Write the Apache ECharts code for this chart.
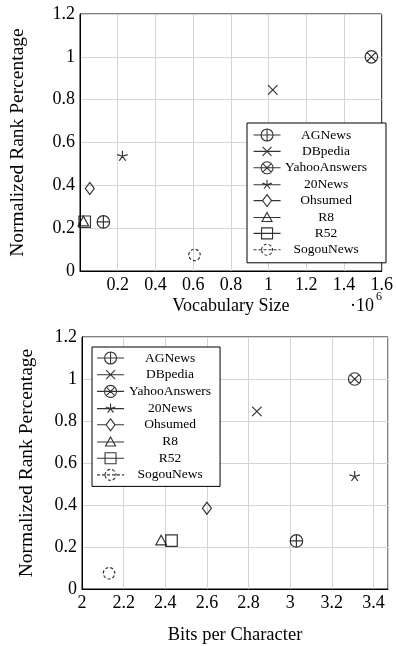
<!DOCTYPE html>
<html>
<head>
<meta charset="utf-8">
<script src="https://cdn.jsdelivr.net/npm/echarts@6/dist/echarts.min.js"></script>
<style>
html,body{margin:0;padding:0;background:#fff;}
#chart{width:396px;height:646px;}
</style>
</head>
<body>
<div id="chart"></div>
<script>
// ---- data ----
var datasetNames = ['AGNews', 'DBpedia', 'YahooAnswers', '20News', 'Ohsumed', 'R8', 'R52', 'SogouNews'];
var rankPercentage = [0.229, 0.846, 1.0, 0.538, 0.385, 0.233, 0.23, 0.075];
var vocabularySize = [124000, 1022000, 1545000, 225000, 52000, 18000, 25000, 607000];
var bitsPerCharacter = [3.03, 2.84, 3.31, 3.31, 2.60, 2.38, 2.43, 2.13];
var yTicks = [0, 0.2, 0.4, 0.6, 0.8, 1, 1.2];
var vocabTicks = [0.2, 0.4, 0.6, 0.8, 1, 1.2, 1.4, 1.6]; // x 10^6
var bpcTicks = [2, 2.2, 2.4, 2.6, 2.8, 3, 3.2, 3.4];

// ---- styling ----
var FONT = 'Liberation Serif';
var markers = [
  {sym: 'path://M0,10A10,10,0,1,1,20,10A10,10,0,1,1,0,10ZM0,10L20,10M10,0L10,20', size: 12.5},
  {sym: 'path://M0,0L20,20M0,20L20,0', size: 9.5},
  {sym: 'path://M0,10A10,10,0,1,1,20,10A10,10,0,1,1,0,10ZM2.93,2.93L17.07,17.07M2.93,17.07L17.07,2.93', size: 12.5},
  {sym: 'path://M10,10L10,0M10,10L19.51,6.91M10,10L15.88,18.09M10,10L4.12,18.09M10,10L0.49,6.91', size: [10.5, 10]},
  {sym: 'path://M5,0L10,7L5,14L0,7Z', size: [9, 12]},
  {sym: 'path://M5,0L10,9L0,9Z', size: [10.5, 9.5]},
  {sym: 'path://M0,0L10,0L10,10L0,10Z', size: 11.5},
  {sym: 'path://M0,10A10,10,0,1,1,20,10A10,10,0,1,1,0,10Z', size: 11.5}
];
var legendIcons = [
  'path://M0,6L27,6M7.5,6A6,6,0,1,1,19.5,6A6,6,0,1,1,7.5,6ZM13.5,0L13.5,12',
  'path://M0,6L27,6M9,1.5L18,10.5M9,10.5L18,1.5',
  'path://M0,6L27,6M7.5,6A6,6,0,1,1,19.5,6A6,6,0,1,1,7.5,6ZM9.26,1.76L17.74,10.24M9.26,10.24L17.74,1.76',
  'path://M0,6L27,6M13.5,6L13.5,1M13.5,6L18.26,4.45M13.5,6L16.44,10.05M13.5,6L10.56,10.05M13.5,6L8.74,4.45',
  'path://M0,6L9,6M18,6L27,6M13.5,0L18,6L13.5,12L9,6Z',
  'path://M0,6L27,6M13.5,1L18.5,10L8.5,10Z',
  'path://M0,6L27,6M8,0.5L19,0.5L19,11.5L8,11.5Z',
  'path://M0,6L27,6M8,6A5.5,5.5,0,1,1,19,6A5.5,5.5,0,1,1,8,6Z'
];

function fmtNum(v) { return String(+v.toFixed(2)); }

function buildSeries(xValues, axisIndex) {
  return datasetNames.map(function (name, i) {
    return {
      name: name,
      type: 'scatter',
      xAxisIndex: axisIndex,
      yAxisIndex: axisIndex,
      symbol: markers[i].sym,
      symbolSize: markers[i].size,
      itemStyle: {
        color: 'rgba(0,0,0,0)',
        borderColor: '#000',
        borderWidth: 1.2,
        borderType: i === 7 ? [3, 2] : 'solid'
      },
      emphasis: {disabled: true},
      silent: true,
      data: [[xValues[i], rankPercentage[i]]]
    };
  });
}

function buildLegend(opts) {
  return {
    orient: 'vertical',
    left: opts.left,
    top: opts.top,
    padding: opts.padding,
    itemWidth: 27,
    itemHeight: 12,
    itemGap: opts.gap,
    backgroundColor: '#fff',
    borderColor: '#000',
    borderWidth: 1,
    borderRadius: 0,
    selectedMode: false,
    itemStyle: {color: 'rgba(0,0,0,0)', borderColor: '#000', borderWidth: 1.1},
    formatter: '{t|{name}}',
    textStyle: {
      fontFamily: FONT, fontSize: 13.5, color: '#000',
      rich: {t: {width: opts.textWidth, align: 'center', lineHeight: 14, fontFamily: FONT, fontSize: 13.5, color: '#000'}}
    },
    data: datasetNames.map(function (n, i) {
      var d = {name: n, icon: legendIcons[i]};
      if (i === 7) d.itemStyle = {borderType: [3, 2]};
      return d;
    })
  };
}

var axisLabelStyle = {fontFamily: FONT, fontSize: 18, color: '#000'};
var splitLineStyle = {show: true, lineStyle: {color: '#d4d4d4', width: 1}};
var axisLineStyle = {show: true, lineStyle: {color: '#000', width: 1}};

var option = {
  animation: false,
  backgroundColor: '#fff',
  grid: [
    {left: 72, top: 14, width: 314, height: 257, show: true, borderColor: '#000', borderWidth: 1, backgroundColor: 'transparent'},
    {left: 82, top: 337, width: 306, height: 260, show: true, borderColor: '#000', borderWidth: 1, backgroundColor: 'transparent'}
  ],
  xAxis: [
    {
      type: 'value', gridIndex: 0, min: 0, max: 1.6e6, interval: 2e5,
      axisLine: axisLineStyle, axisTick: {show: false}, splitLine: splitLineStyle,
      axisLabel: Object.assign({margin: 5, formatter: function (v) {
        var t = +(v / 1e6).toFixed(1);
        return vocabTicks.indexOf(t) >= 0 ? String(t) : '';
      }}, axisLabelStyle),
      name: 'Vocabulary Size', nameLocation: 'middle', nameGap: 26,
      nameTextStyle: {fontFamily: FONT, fontSize: 18, color: '#000'}
    },
    {
      type: 'value', gridIndex: 1, min: 2, max: 3.47, interval: 0.2,
      axisLine: axisLineStyle, axisTick: {show: false}, splitLine: splitLineStyle,
      axisLabel: Object.assign({margin: 5, showMaxLabel: false, formatter: function (v) {
        var t = +v.toFixed(1);
        return bpcTicks.indexOf(t) >= 0 ? String(t) : '';
      }}, axisLabelStyle),
      name: 'Bits per Character', nameLocation: 'middle', nameGap: 37,
      nameTextStyle: {fontFamily: FONT, fontSize: 18.5, color: '#000'}
    }
  ],
  yAxis: [0, 1].map(function (gi) {
    return {
      type: 'value', gridIndex: gi, min: 0, max: 1.2, interval: 0.2,
      axisLine: axisLineStyle, axisTick: {show: false}, splitLine: splitLineStyle,
      axisLabel: Object.assign({margin: 5, formatter: function (v) {
        var t = +v.toFixed(1);
        return yTicks.indexOf(t) >= 0 ? fmtNum(t) : '';
      }}, axisLabelStyle),
      name: 'Normalized Rank Percentage', nameLocation: 'middle', nameRotate: 90,
      nameGap: gi === 0 ? 52 : 45,
      nameTextStyle: {fontFamily: FONT, fontSize: 19.5, color: '#000'}
    };
  }),
  legend: [
    buildLegend({left: 247, top: 123, padding: [5, 19, 6, 6], gap: 2.4, textWidth: 81}),
    buildLegend({left: 92, top: 347, padding: [4, 9, 4.5, 4.5], gap: 2.7, textWidth: 82})
  ],
  graphic: [
    {type: 'text', left: 350, top: 297, silent: true,
      style: {text: '\u00b710', fontFamily: FONT, fontSize: 18, fill: '#000'}},
    {type: 'text', left: 376, top: 291, silent: true,
      style: {text: '6', fontFamily: FONT, fontSize: 12, fill: '#000'}}
  ],
  series: buildSeries(vocabularySize, 0).concat(buildSeries(bitsPerCharacter, 1))
};

var chart = echarts.init(document.getElementById('chart'), null, {renderer: 'canvas'});
chart.setOption(option);
</script>
</body>
</html>
